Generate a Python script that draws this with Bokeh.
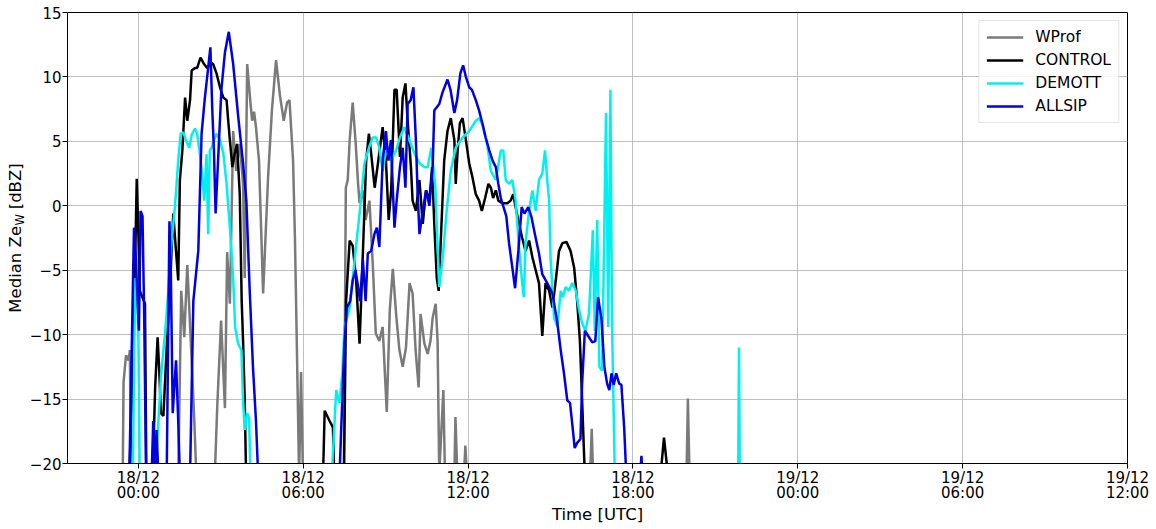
import numpy as np
from bokeh.plotting import figure
from bokeh.layouts import row
from bokeh.models import FixedTicker, Range1d
from bokeh.core.properties import value
from bokeh.embed import file_html
from bokeh.resources import INLINE

nan = np.nan

# time: hours since 18/12 00:00 UTC ; values: median Ze_W [dBZ]
wprof_t = [-0.57, -0.54, -0.45, -0.36, -0.31, -0.27, nan,
           1.45, 1.56, 1.67, 1.78, 1.89, 2.03, 2.11, nan,
           2.78, 2.87, 3.01, 3.15, 3.23, 3.33, 3.45, 3.56, 3.69, 3.81, 3.87, 3.96, 4.07, 4.14, 4.21, 4.28,
           4.39, 4.54, 4.72, 4.86, 5.01, 5.15, 5.29, 5.41, 5.50, 5.63, 5.70, 5.77, 5.85, 5.92, 5.99, nan,
           7.48, 7.55, 7.62, 7.69, 7.80, 7.91, 8.00, 8.05, 8.17, 8.27, 8.41, 8.53, 8.64, 8.77, 8.89, 9.04,
           9.15, 9.26, 9.38, 9.50, 9.62, 9.74, 9.87, 9.98, 10.09, 10.20, 10.27, 10.41, 10.53, 10.63, 10.71,
           10.82, 10.89, 10.95, 11.10, 11.16, 11.50, 11.54, 11.61, 11.85, 11.90, 11.96, nan,
           16.44, 16.50, 16.55, nan,
           19.95, 20.00, 20.06]
wprof_v = [-21, -13.7, -11.6, -12.0, -11.2, -21, nan,
           -21, -6.6, -10.2, -4.6, -9.7, -16.4, -21, nan,
           -21, -15.6, -8.9, -15.7, -3.6, -7.6, 5.8, 2.7, 4.8, 1.7, -5.6, 11.0, 8.2, 6.6, 7.3, 6.1,
           3.5, -6.8, 2.2, 7.4, 11.3, 8.6, 6.6, 8.0, 8.2, 3.5, -2.7, -11.2, -21, -12.9, -21, nan,
           -21, 1.4, 2.0, 5.1, 8.0, 4.8, 1.6, 0.2, 1.2, -1.1, 0.4, -4.5, -9.9, -10.5, -9.4, -16.0,
           -8.1, -4.9, -8.4, -11.2, -12.5, -11.0, -6.0, -6.8, -11.2, -14.1, -8.4, -10.7, -11.5, -10.5, -8.7,
           -7.6, -10.5, -20.8, -14.3, -21, -21, -16.4, -21, -21, -18.6, -21, nan,
           -21, -17.3, -21, nan,
           -21, -14.95, -21]

control_t = [-0.33, -0.18, -0.06, 0.00, 0.05, 0.24, 0.29, 0.52, 0.61, 0.70, 0.76, 0.82, 0.91, 1.03,
             1.16, 1.27, 1.34, 1.45, 1.51, 1.60, 1.70, 1.78, 1.88, 1.94, 2.06, 2.14, 2.26, 2.39, 2.50,
             2.65, 2.72, 2.84, 2.97, 3.09, 3.21, 3.27, 3.33, 3.42, 3.51, 3.59, 3.69, 3.76, 3.81, 3.87,
             3.92, nan,
             6.72, 6.78, 6.96, 7.08, 7.13, nan,
             7.48, 7.56, 7.69, 7.80, 7.92, 8.05, 8.17, 8.29, 8.39, 8.48, 8.60, 8.72, 8.89, 9.01, 9.11,
             9.20, 9.32, 9.40, 9.52, 9.62, 9.72, 9.80, 9.92, 9.98, 10.10, 10.23, 10.35, 10.47, 10.59,
             10.69, 10.77, 10.86, 10.93, 11.01, 11.13, 11.25, 11.37, 11.50, 11.55, 11.62, 11.70, 11.80,
             11.92, 12.04, 12.16, 12.28, 12.40, 12.50, 12.62, 12.74, 12.83, 12.91, 13.01, 13.10, 13.25,
             13.43, 13.55, 13.64, 13.73, 13.85, 13.97, 14.09, 14.22, 14.34, 14.46, 14.58, 14.70, 14.82,
             14.95, 15.07, 15.19, 15.31, 15.43, 15.58, 15.73, 15.86, 15.97, 16.07, 16.15, 16.25, nan,
             19.00, 19.13, 19.28]
control_v = [-21, -11.2, 2.1, -2.2, -6.6, -7.6, -21, -21, -14.1, -10.2, -12.8, -16.1, -16.3, -11.0,
             -5.8, -0.6, -2.7, -5.8, 2.0, 4.3, 8.4, 6.6, 8.2, 10.5, 10.7, 10.7, 11.5, 11.0, 10.7,
             11.1, 11.0, 10.3, 9.2, 8.4, 8.2, 6.6, 5.1, 3.0, 4.1, 4.8, 0.9, -7.4, -10.5, -15.0,
             -21, nan,
             -21, -15.9, -16.7, -17.2, -21, nan,
             -21, -7.4, -2.7, -3.1, -5.6, -10.7, -3.7, 3.5, 5.6, 3.9, 1.4, 3.3, 6.1, 3.5, -1.1,
             1.2, 9.0, 9.0, 3.8, 8.4, 9.5, 6.6, 3.0, 0.4, -0.4, 2.0, -1.4, 1.2, 0.4,
             3.0, -1.4, -5.6, -6.6, -2.5, 3.5, 5.8, 6.8, 5.1, 1.7, 4.3, 6.4, 6.8,
             5.1, 3.3, 2.2, 0.9, 0.4, -0.4, 0.6, 1.7, 1.4, 0.6, 1.2, 0.4, 0.2,
             0.2, 0.4, 0.9, -0.1, -1.4, -2.5, -3.5, -2.7, -4.0, -5.0, -6.0, -10.1, -6.0,
             -6.6, -7.9, -5.8, -3.5, -2.9, -2.8, -3.5, -4.8, -7.4, -10.5, -15.1, -21, nan,
             -21, -18.0, -21]

demott_t = [-0.20, -0.12, -0.06, 0.00, 0.05, nan,
            0.61, 0.73, 0.82, 0.97, 1.09, 1.21, 1.33, 1.45, 1.54, 1.63, 1.73, 1.85, 1.94, 2.06, 2.14,
            2.24, 2.32, 2.40, 2.48, 2.54, 2.60, 2.66, 2.75, 2.84, 2.97, 3.09, 3.21, 3.33, 3.45, 3.52,
            3.63, 3.75, 3.81, 3.87, 3.96, 4.03, 4.08, nan,
            7.04, 7.08, 7.20, 7.32, 7.42, 7.50, 7.69, 7.87, 8.05, 8.23, 8.39, 8.53, 8.65, 8.77, 8.89,
            9.01, 9.19, 9.38, 9.52, 9.68, 9.86, 10.04, 10.23, 10.41, 10.53, 10.66, 10.81, 10.89, 10.95,
            11.07, 11.22, 11.37, 11.55, 11.80, 12.04, 12.28, 12.40, 12.52, 12.70, 12.83, 13.01, 13.19,
            13.28, 13.37, 13.49, 13.61, 13.73, 13.85, 13.97, 14.03, 14.09, 14.22, 14.34, 14.46, 14.58,
            14.70, 14.80, 14.88, 14.95, 15.00, 15.13, 15.25, 15.37, 15.45, 15.55, 15.67, 15.79, 15.92,
            16.04, 16.15, 16.27, 16.40, 16.54, 16.61, 16.70, 16.78, 16.88, 17.02, 17.10, 17.18, 17.24,
            17.28, 17.34, nan,
            21.83, 21.86, 21.89]
demott_v = [-21, -5.6, -6.8, -9.9, -21, nan,
            -21, -16.7, -13.3, -9.9, -6.6, -2.7, -0.1, 3.5, 5.6, 5.7, 5.1, 4.5, 5.5, 6.0, 5.6,
            4.0, 2.5, 0.4, 4.0, -2.2, 4.3, 4.5, 5.1, 5.6, 5.1, 4.1, 1.7, -1.7, -5.6, -9.4,
            -10.7, -11.2, -15.1, -17.4, -16.1, -16.5, -21, nan,
            -21, -19.2, -14.3, -15.3, -13.0, -9.4, -7.9, -4.2, -0.6, 3.3, 4.5, 5.3, 5.3, 4.5, 2.7,
            4.3, 3.5, 4.3, 5.3, 6.1, 5.1, 4.1, 3.3, 3.0, 3.0, 4.5, 1.4, -3.2, -6.3,
            -4.2, -0.4, 2.7, 4.5, 5.3, 5.8, 6.6, 6.8, 6.3, 4.7, 2.7, 2.0, 4.3,
            4.3, 2.0, 1.7, 2.0, 0.4, -3.2, -6.0, -7.1, -2.9, -0.4, 1.2, -0.4, 2.0,
            2.5, 4.3, 2.0, 0.4, -4.0, -8.7, -9.4, -6.6, -7.1, -6.3, -6.6, -6.0, -6.6,
            -8.1, -9.1, -9.7, -8.4, -1.9, -9.7, -1.1, -12.5, -12.8, 7.2, -9.4, 9.0, -9.4,
            -13.8, -21, nan,
            -21, -11.0, -21]

allsip_t = [-0.33, -0.16, -0.09, -0.04, 0.02, 0.08, 0.15, 0.21, 0.28, 0.48, 0.54, 0.60, 0.66, 0.73, nan,
            1.03, 1.13, 1.18, 1.25, 1.37, 1.45, 1.51, nan,
            1.88, 2.00, 2.18, 2.30, 2.42, 2.54, 2.62, 2.69, 2.75, 2.81, 2.90, 3.02, 3.15, 3.29, 3.45,
            3.63, 3.81, 3.93, 4.05, 4.17, 4.28, 4.36, nan,
            7.32, 7.42, 7.50, 7.59, 7.71, 7.80, 7.90, 7.99, 8.07, 8.17, 8.27, 8.35, 8.47, 8.59, 8.68,
            8.77, 8.89, 9.01, 9.10, 9.19, 9.26, 9.32, 9.40, 9.52, 9.62, 9.72, 9.80, 9.91, 10.01, 10.10,
            10.16, 10.23, 10.35, 10.47, 10.59, 10.71, 10.77, 10.95, 11.07, 11.25, 11.36, 11.50, 11.60,
            11.72, 11.82, 11.92, 12.04, 12.14, 12.28, 12.40, 12.52, 12.64, 12.77, 12.89, 13.01, 13.10,
            13.19, 13.29, 13.39, 13.49, 13.61, 13.71, 13.83, 13.95, 14.05, 14.19, 14.31, 14.46, 14.58,
            14.70, 14.88, 15.07, 15.25, 15.37, 15.49, 15.61, 15.71, 15.79, 15.88, 15.97, 16.09, 16.15,
            16.25, 16.40, 16.52, 16.63, 16.73, 16.85, 16.96, 17.06, 17.14, 17.22, 17.30, 17.39, 17.50,
            17.58, 17.68, 17.76, nan,
            18.26, 18.31, 18.35]
allsip_v = [-21, -1.7, -4.2, -6.8, -9.7, -0.4, -0.8, -8.4, -21, -21, -16.7, -21, -17.4, -21, nan,
            -21, -1.2, -5.0, -16.1, -12.0, -16.7, -21, nan,
            -21, -7.4, -3.5, 5.6, 8.4, 10.7, 12.3, 7.4, 4.3, -0.6, 3.5, 9.0, 11.9, 13.5, 11.0,
            7.0, 3.3, 0.4, -6.5, -12.5, -16.7, -21, nan,
            -21, -15.1, -10.7, -7.9, -7.4, -5.8, -5.0, -6.2, -7.4, -4.2, -7.4, -3.7, -3.5, -2.2, -1.7,
            -3.2, 3.5, 5.8, 3.5, 5.1, 1.4, -1.7, 0.4, 3.0, 4.5, 1.4, 7.9, 8.2, 9.2, 5.1,
            1.2, -2.2, -0.4, 1.2, 0.0, 3.0, 7.4, 7.9, 8.8, 9.8, 9.0, 7.2, 8.2,
            10.3, 10.9, 10.0, 9.2, 9.0, 8.2, 7.4, 6.4, 5.3, 4.3, 3.5, 3.0, 1.7,
            0.6, -0.1, -0.8, -2.9, -4.8, -6.4, -3.5, -0.1, -0.6, -0.1, -0.9, -2.5, -3.7,
            -5.3, -6.0, -6.8, -9.1, -11.2, -13.0, -15.1, -15.3, -16.9, -18.8, -18.4, -18.1, -13.8,
            -9.7, -10.2, -10.6, -10.5, -7.1, -8.7, -12.5, -13.8, -14.3, -13.0, -13.9, -13.0, -13.8,
            -13.9, -17.2, -21, nan,
            -21, -19.4, -21]

x_ticks = [0, 6, 12, 18, 24, 30, 36]
x_tick_labels = ["18/12\n00:00", "18/12\n06:00", "18/12\n12:00", "18/12\n18:00",
                 "19/12\n00:00", "19/12\n06:00", "19/12\n12:00"]
y_ticks = [-20, -15, -10, -5, 0, 5, 10, 15]
y_tick_labels = ["\u221220", "\u221215", "\u221210", "\u22125", "0", "5", "10", "15"]
y_min, y_max = -20, 15

FONT = "DejaVu Sans"
W_TOTAL, H_TOTAL = 1156, 529
LABEL_W = 26
AXIS_LABEL_PX = 16.5

# ---------------- main chart ----------------
p = figure(width=W_TOTAL - LABEL_W, height=H_TOTAL, output_backend="svg", toolbar_location=None,
           x_range=Range1d(-2.58, 36.0), y_range=Range1d(y_min, y_max),
           min_border_left=64 - LABEL_W, min_border_right=29, min_border_top=12, min_border_bottom=66)
p.background_fill_color = "white"
p.border_fill_color = "white"
p.outline_line_color = "black"
p.outline_line_width = 1

p.line(wprof_t, wprof_v, line_color="#7a7a7a", line_width=2.5, legend_label="WProf")
p.line(control_t, control_v, line_color="black", line_width=2.5, legend_label="CONTROL")
p.line(demott_t, demott_v, line_color="#00f0f0", line_width=2.5, legend_label="DEMOTT")
p.line(allsip_t, allsip_v, line_color="#0000e6", line_width=2.5, legend_label="ALLSIP")

p.xaxis.ticker = FixedTicker(ticks=x_ticks)
p.xaxis.major_label_overrides = dict(zip(x_ticks, x_tick_labels))
p.yaxis.ticker = FixedTicker(ticks=y_ticks)
p.yaxis.major_label_overrides = dict(zip(y_ticks, y_tick_labels))

for ax in (p.xaxis, p.yaxis):
    ax.major_label_text_font = FONT
    ax.major_label_text_font_size = "15px"
    ax.major_label_text_color = "black"
    ax.axis_line_color = "black"
    ax.major_tick_line_color = "black"
    ax.major_tick_out = 5
    ax.major_tick_in = 0
    ax.minor_tick_out = 0
    ax.minor_tick_in = 0
    ax.major_label_standoff = 1
p.xaxis.major_label_standoff = 0
p.xaxis.major_label_text_line_height = 0.85

p.xaxis.axis_label = "Time [UTC]"
p.xaxis.axis_label_text_font = FONT
p.xaxis.axis_label_text_font_size = f"{AXIS_LABEL_PX}px"
p.xaxis.axis_label_text_font_style = "normal"
p.xaxis.axis_label_text_color = "black"
p.xaxis.axis_label_standoff = 0

p.grid.grid_line_color = "#b0b0b0"
p.grid.grid_line_width = 1
p.grid.grid_line_alpha = 0.8

lg = p.legend[0]
lg.location = "top_right"
lg.label_text_font = FONT
lg.label_text_font_size = "15.5px"
lg.label_text_color = "black"
lg.glyph_width = 37
lg.glyph_height = 18
lg.label_height = 18
lg.spacing = 5
lg.padding = 7
lg.margin = 8
lg.label_standoff = 12
lg.border_line_color = "#cccccc"
lg.border_line_width = 1
lg.background_fill_alpha = 0.85

# ---------------- y-axis title strip: "Median Ze_W [dBZ]" ----------------
# shares the main chart's value range so its frame lines up with the chart's frame
lab = figure(width=LABEL_W, height=H_TOTAL, output_backend="svg", toolbar_location=None,
             x_axis_type=None, y_axis_type=None, title=None,
             x_range=Range1d(0, 1), y_range=p.y_range,
             min_border=0, min_border_left=0, min_border_right=0, min_border_top=12, min_border_bottom=66)
lab.grid.visible = False
lab.outline_line_color = None
lab.background_fill_color = "white"
lab.border_fill_color = "white"

em = AXIS_LABEL_PX
main_len = 5.256 * em            # "Median Ze"
sub_len = 0.989 * em * 0.7       # subscript "W"
gap = 0.318 * em                 # space
unit_len = 2.786 * em            # "[dBZ]"
half = (main_len + sub_len + gap + unit_len) / 2
y_centre = (y_min + y_max) / 2
common = dict(angle=np.pi / 2, text_align="left", text_baseline="middle",
              text_font=value(FONT), text_color="black")
lab.text(x=[0], y=[y_centre], text=["Median Ze"], x_offset=15, y_offset=half,
         text_font_size=f"{em}px", **common)
lab.text(x=[0], y=[y_centre], text=["W"], x_offset=19, y_offset=half - main_len - 0.5,
         text_font_size=f"{em * 0.7:.2f}px", **common)
lab.text(x=[0], y=[y_centre], text=["[dBZ]"], x_offset=15, y_offset=half - main_len - sub_len - gap,
         text_font_size=f"{em}px", **common)

layout = row(lab, p, spacing=0)
open("out.html", "w").write(file_html(layout, INLINE))
